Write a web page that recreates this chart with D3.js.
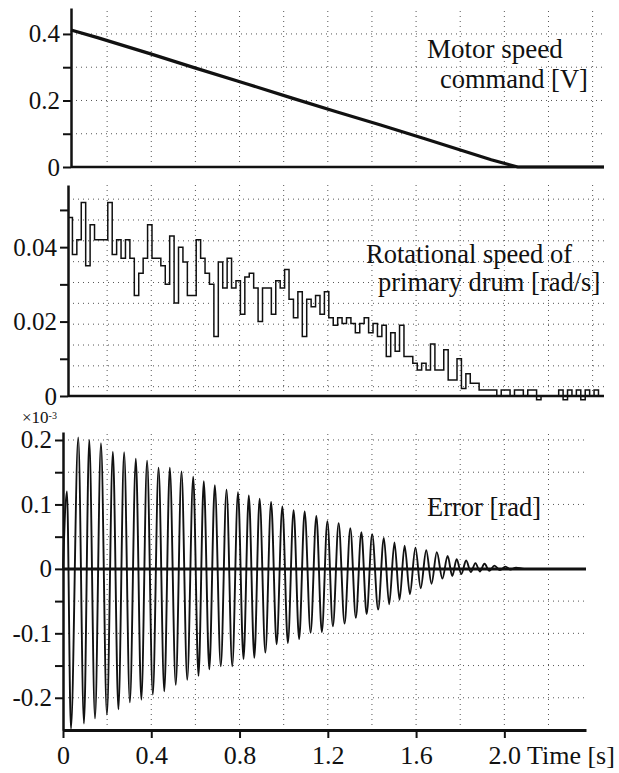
<!DOCTYPE html>
<html>
<head>
<meta charset="utf-8">
<script src="https://cdn.jsdelivr.net/npm/d3@7"></script>
<style>
  body { margin: 0; background: #fff; }
  svg, svg text { font-family: "Liberation Serif", "Times New Roman", Times, "DejaVu Serif", serif; fill: #111; }
  .grid line { stroke: #555; stroke-width: 1; stroke-dasharray: 1,4; }
</style>
</head>
<body>
<svg id="chart" width="619" height="773"></svg>
<script>
// ---- data ----
// motor speed command [V]
var motorTime  = [0, 0.12, 0.36, 0.56, 0.8, 1.0, 1.2, 1.4, 1.6, 1.8, 1.9, 2.02, 2.41];
var motorValue = [0.412, 0.389, 0.340, 0.298, 0.249, 0.207, 0.166, 0.126, 0.085, 0.043, 0.022, 0, 0];

// rotational speed of primary drum [rad/s], one sample every 0.02 s
var speedStep = 0.02;
var speedValue = [
  0.048, 0.038, 0.042, 0.052, 0.035, 0.046, 0.042, 0.042, 0.042, 0.052,
  0.038, 0.042, 0.037, 0.042, 0.037, 0.027, 0.033, 0.037, 0.046, 0.037,
  0.037, 0.035, 0.030, 0.043, 0.025, 0.040, 0.036, 0.027, 0.027, 0.042,
  0.037, 0.033, 0.030, 0.016, 0.036, 0.029, 0.037, 0.029, 0.031, 0.022,
  0.032, 0.033, 0.029, 0.020, 0.029, 0.029, 0.022, 0.031, 0.029, 0.034,
  0.026, 0.021, 0.028, 0.016, 0.026, 0.024, 0.027, 0.022, 0.028, 0.021,
  0.019, 0.021, 0.0195, 0.021, 0.0195, 0.017, 0.0195, 0.021, 0.017, 0.0195,
  0.016, 0.019, 0.0106, 0.017, 0.012, 0.019, 0.0106, 0.0106, 0.0088, 0.007,
  0.0088, 0.007, 0.014, 0.007, 0.007, 0.0124, 0.0043, 0.0043, 0.010, 0.002,
  0.006, 0.0034, 0.0034, 0.0016, 0.0016, 0.0016, 0.0016, 0, 0.0016, 0.0016,
  0, 0.0016, 0.0016, 0, 0.0016, 0.0016, -0.001, 0, 0, 0,
  0, 0.0016, -0.001, 0.0016, 0, 0.0016, -0.001, 0.0016, 0, 0.0016,
  0
];

// error [rad] x 1e-3 : successive peaks and troughs
var errTime = [
  0, 0.018, 0.036, 0.069, 0.095, 0.119, 0.145, 0.172, 0.199, 0.226,
  0.251, 0.277, 0.303, 0.330, 0.355, 0.381, 0.407, 0.433, 0.459, 0.484,
  0.511, 0.537, 0.563, 0.590, 0.614, 0.638, 0.663, 0.688, 0.715, 0.741,
  0.767, 0.793, 0.818, 0.842, 0.867, 0.891, 0.917, 0.943, 0.968, 0.994,
  1.019, 1.045, 1.070, 1.095, 1.122, 1.148, 1.173, 1.198, 1.223, 1.249,
  1.276, 1.302, 1.327, 1.352, 1.376, 1.401, 1.428, 1.454, 1.478, 1.502,
  1.525, 1.548, 1.572, 1.597, 1.621, 1.646, 1.670, 1.694, 1.719, 1.743,
  1.764, 1.784, 1.805, 1.827, 1.848, 1.869, 1.889, 1.910, 1.932, 1.955,
  1.980, 2.005, 2.027, 2.053, 2.090, 2.367
];
var errValue = [
  0, 0.12, -0.248, 0.204, -0.24, 0.200, -0.232, 0.195, -0.226, 0.182,
  -0.218, 0.181, -0.207, 0.171, -0.203, 0.168, -0.195, 0.157, -0.19, 0.157,
  -0.18, 0.151, -0.172, 0.143, -0.166, 0.136, -0.156, 0.130, -0.151, 0.123,
  -0.151, 0.119, -0.140, 0.114, -0.138, 0.109, -0.130, 0.104, -0.117, 0.097,
  -0.115, 0.091, -0.109, 0.089, -0.099, 0.082, -0.098, 0.074, -0.089, 0.071,
  -0.085, 0.063, -0.076, 0.057, -0.070, 0.054, -0.063, 0.048, -0.055, 0.041,
  -0.048, 0.036, -0.039, 0.033, -0.030, 0.029, -0.023, 0.026, -0.015, 0.020,
  -0.011, 0.015, -0.008, 0.013, -0.005, 0.009, -0.004, 0.008, -0.003, 0.005,
  -0.002, 0.0035, -0.001, 0.002, 0, 0
];

// ticks
var timeTicks = [0, 0.4, 0.8, 1.2, 1.6, 2.0];
var gridTimes = [0.2, 0.4, 0.6, 0.8, 1.0, 1.2, 1.4, 1.6, 1.8, 2.0, 2.2, 2.4];
var motorTicks = [0, 0.2, 0.4], motorMinor = [0.1, 0.3];
var speedTicks = [0, 0.02, 0.04], speedMinor = [0.01, 0.03, 0.05];
var speedGrid = [0.0025, 0.0081, 0.0137, 0.0193, 0.0249, 0.0305, 0.0361, 0.0417, 0.0473, 0.0529];
var errTicks = [-0.2, -0.1, 0, 0.1, 0.2], errMinor = [-0.15, -0.05, 0.05, 0.15];
var errGrid = [-0.2, -0.15, -0.1, -0.05, 0.05, 0.1, 0.15, 0.2];

var SERIF = '"Liberation Serif", "Times New Roman", Times, "DejaVu Serif", serif';
var svg = d3.select("#chart").attr("font-family", SERIF);

// each panel sits a little differently on the scanned page
var xTop = d3.scaleLinear().domain([0, 2.41]).range([71, 604]);
var yTop = d3.scaleLinear().domain([0, 0.478]).range([167, 8]);
var xMid = d3.scaleLinear().domain([0, 2.425]).range([68, 604]);
var yMid = d3.scaleLinear().domain([0, 0.0567]).range([396, 185]);
var xBot = d3.scaleLinear().domain([0, 2.37]).range([63, 586]);
var yBot = d3.scaleLinear().domain([-0.25, 0.2124]).range([730, 432]);

function labelFmt(d) { return d === 0 ? "0" : String(d); }

function drawGrid(xs, ys, hVals) {
  var g = svg.append("g").attr("class", "grid");
  var xr = xs.range();
  g.selectAll("line.v")
    .data(gridTimes.filter(function(t){ return xBot(t) < xr[1] - 4; }))
    .join("line").attr("class", "v")
    .attr("x1", function(t){ return xBot(t); })
    .attr("x2", function(t){ return xBot(t); })
    .attr("y1", ys.range()[0]).attr("y2", ys.range()[1]);
  g.selectAll("line.h")
    .data(hVals)
    .join("line").attr("class", "h")
    .attr("x1", xr[0]).attr("x2", xr[1])
    .attr("y1", function(v){ return ys(v); })
    .attr("y2", function(v){ return ys(v); });
}

function drawYAxis(xs, ys, major, minor) {
  var axis = d3.axisLeft(ys)
    .tickValues(major.concat(minor))
    .tickSize(8).tickSizeOuter(0).tickPadding(3)
    .tickFormat(function(d){ return major.indexOf(d) >= 0 ? labelFmt(d) : ""; });
  var g = svg.append("g")
    .attr("transform", "translate(" + xs.range()[0] + ",0)")
    .call(axis)
    .attr("font-family", SERIF);
  g.select(".domain").attr("stroke", "#111").attr("stroke-width", 2.5);
  g.selectAll(".tick line").attr("stroke", "#111").attr("stroke-width", 2);
  g.selectAll(".tick text").attr("font-size", 25).style("font-family", SERIF);
}

function hLine(xs, y, w) {
  svg.append("line")
    .attr("x1", xs.range()[0]).attr("x2", xs.range()[1])
    .attr("y1", y).attr("y2", y)
    .attr("stroke", "#111").attr("stroke-width", w);
}

// ---- top: motor speed command ----
drawGrid(xTop, yTop, [0.1, 0.2, 0.3, 0.4]);
var motorLine = d3.line()
  .x(function(d){ return xTop(d[0]); })
  .y(function(d){ return yTop(d[1]); });
svg.append("path")
  .datum(d3.zip(motorTime, motorValue))
  .attr("d", motorLine)
  .attr("fill", "none").attr("stroke", "#111").attr("stroke-width", 3.2);
hLine(xTop, yTop(0), 2.5);
drawYAxis(xTop, yTop, motorTicks, motorMinor);

// ---- middle: rotational speed ----
drawGrid(xMid, yMid, speedGrid);
var speedLine = d3.line()
  .curve(d3.curveStepAfter)
  .x(function(d, i){ return xMid(i * speedStep); })
  .y(function(d){ return yMid(d); });
svg.append("path")
  .datum(speedValue)
  .attr("d", speedLine)
  .attr("fill", "none").attr("stroke", "#111").attr("stroke-width", 1.5);
hLine(xMid, yMid(0), 2.5);
drawYAxis(xMid, yMid, speedTicks, speedMinor);

// ---- bottom: error ----
drawGrid(xBot, yBot, errGrid);
var errLine = d3.line()
  .curve(d3.curveMonotoneX)
  .x(function(d){ return xBot(d[0]); })
  .y(function(d){ return yBot(d[1]); });
svg.append("path")
  .datum(d3.zip(errTime, errValue))
  .attr("d", errLine)
  .attr("fill", "none").attr("stroke", "#111").attr("stroke-width", 1.9);
hLine(xBot, yBot(0), 3);
drawYAxis(xBot, yBot, errTicks, errMinor);

var xAxis = d3.axisBottom(xBot)
  .tickValues(timeTicks)
  .tickSize(8).tickSizeOuter(0)
  .tickFormat(function(d){ return d === 0 ? "0" : d.toFixed(1); });
var gx = svg.append("g")
  .attr("transform", "translate(0," + yBot.range()[0] + ")")
  .call(xAxis)
  .attr("font-family", SERIF);
gx.select(".domain").attr("stroke", "#111").attr("stroke-width", 3);
gx.selectAll(".tick line").attr("stroke", "#111").attr("stroke-width", 2);
gx.selectAll(".tick text").attr("font-size", 26).attr("y", 34).attr("dy", null)
  .style("font-family", SERIF);

// ---- texts ----
function label(txt, x, y, size) {
  return svg.append("text")
    .attr("x", x).attr("y", y)
    .attr("font-size", size)
    .style("font-family", SERIF)
    .text(txt);
}
label("Time [s]", 527, 764, 26);
label("Motor speed", 427, 58, 27);
label("command [V]", 440, 88, 26.5);
label("Rotational speed of", 366, 263, 26.5);
label("primary drum [rad/s]", 378, 291, 26.5);
label("Error [rad]", 427, 516, 26.5);

// exponent squeezed between the "0" of the middle panel and the "0.2" below
var exp = label("\u00d710", 22, 423, 17);
exp.append("tspan").attr("font-size", 10).attr("dy", -4).text("-3");
</script>
</body>
</html>
